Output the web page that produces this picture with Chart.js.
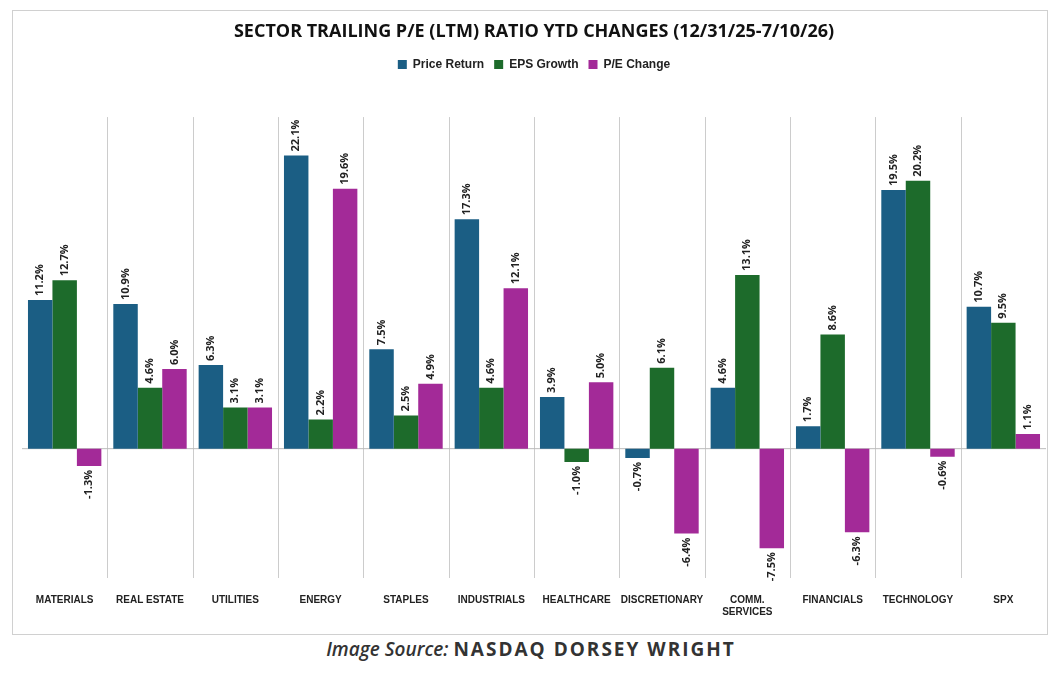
<!DOCTYPE html>
<html><head><meta charset="utf-8">
<script src="https://cdn.jsdelivr.net/npm/chart.js@4"></script>
<style>
body{margin:0;background:#fff;font-family:"Open Sans",sans-serif;}
#box{position:absolute;left:12px;top:10px;width:1036px;height:625px;border:1px solid #d0d0d0;box-sizing:border-box;}
#src{position:absolute;top:636px;left:0;width:1062px;text-align:center;font-size:19px;color:#333;}
#src i{font-style:italic;font-weight:600;}
#src b{letter-spacing:2px;font-weight:700;}
</style></head><body>
<div id="box"><canvas id="c" width="1034" height="623"></canvas></div>
<div id="src"><i>Image Source:</i> <b>NASDAQ DORSEY WRIGHT</b></div>
<script>
const categories=["MATERIALS","REAL ESTATE","UTILITIES","ENERGY","STAPLES","INDUSTRIALS","HEALTHCARE","DISCRETIONARY",["COMM.","SERVICES"],"FINANCIALS","TECHNOLOGY","SPX"];
const priceReturn=[11.2,10.9,6.3,22.1,7.5,17.3,3.9,-0.7,4.6,1.7,19.5,10.7];
const epsGrowth=[12.7,4.6,3.1,2.2,2.5,4.6,-1.0,6.1,13.1,8.6,20.2,9.5];
const peChange=[-1.3,6.0,3.1,19.6,4.9,12.1,5.0,-6.4,-7.5,-6.3,-0.6,1.1];
const labelPlugin={id:'lbl',beforeDatasetsDraw(ch){const ctx=ch.ctx,x=ch.scales.x,y=ch.scales.y;ctx.save();ctx.strokeStyle='#ccc';ctx.lineWidth=1;
const top=y.getPixelForValue(25),bot=ch.chartArea.bottom;const n=ch.data.labels.length;
for(let i=1;i<n;i++){const px=Math.round((x.getPixelForValue(i-1)+x.getPixelForValue(i))/2)+0.5;ctx.beginPath();ctx.moveTo(px,top);ctx.lineTo(px,bot);ctx.stroke();}
const y0=y.getPixelForValue(0);ctx.strokeStyle='#bbb';ctx.beginPath();ctx.moveTo(ch.chartArea.left,y0);ctx.lineTo(ch.chartArea.right,y0);ctx.stroke();ctx.restore();},
afterDatasetsDraw(ch){const ctx=ch.ctx;ctx.save();ctx.font='bold 11px "Open Sans"';ctx.fillStyle='#222';
ch.data.datasets.forEach((ds,i)=>{ch.getDatasetMeta(i).data.forEach((b,j)=>{const v=ds.data[j];const t=v.toFixed(1)+'%';ctx.save();ctx.translate(b.x,b.y+(v>=0?-4:4));ctx.rotate(-Math.PI/2);ctx.textBaseline='middle';ctx.textAlign=v>=0?'left':'right';ctx.fillText(t,0,0);ctx.restore();});});
ctx.restore();}};
new Chart(document.getElementById('c'),{type:'bar',
data:{labels:categories,datasets:[
{label:'Price Return',data:priceReturn,backgroundColor:'#1b5e84'},
{label:'EPS Growth',data:epsGrowth,backgroundColor:'#1d6b2b'},
{label:'P/E Change',data:peChange,backgroundColor:'#a32a98'}]},
options:{responsive:false,animation:false,layout:{padding:{left:9,right:1,top:0,bottom:8}},
categoryPercentage:0.86,barPercentage:1,
plugins:{title:{display:true,text:'SECTOR TRAILING P/E (LTM) RATIO YTD CHANGES (12/31/25-7/10/26)',font:{size:18,weight:'bold',family:'"Open Sans"'},color:'#111',padding:{top:10,bottom:6}},
legend:{labels:{boxWidth:9,boxHeight:9,font:{size:12,weight:'bold'},color:'#222',padding:10}},tooltip:{enabled:false}},
scales:{x:{grid:{display:false},border:{display:false},ticks:{autoSkip:false,font:{size:10,weight:'bold'},color:'#222',maxRotation:0,padding:8}},
y:{display:false,min:-9.75,max:27.75}}},plugins:[labelPlugin]});
</script></body></html>
